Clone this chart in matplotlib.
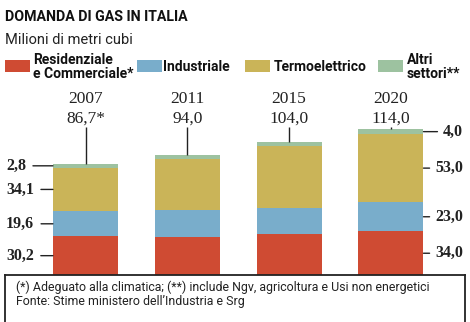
import matplotlib
matplotlib.use("Agg")
import matplotlib.pyplot as plt
from matplotlib.lines import Line2D
from matplotlib.patches import Rectangle
import matplotlib.transforms as mtransforms

# dati (milioni di metri cubi)
anni = ["2007", "2011", "2015", "2020"]
totali = ["86,7*", "94,0", "104,0", "114,0"]
residenziale = [30.2, 30.0, 32.0, 34.0]
industriale = [19.6, 20.5, 20.5, 23.0]
termoelettrico = [34.1, 40.5, 48.0, 53.0]
altri = [2.8, 3.0, 3.5, 4.0]
etichette_2007 = ["30,2", "19,6", "34,1", "2,8"]
etichette_2020 = ["34,0", "23,0", "53,0", "4,0"]

serie = [residenziale, industriale, termoelettrico, altri]
nomi = ["Residenziale\ne Commerciale*", "Industriale", "Termoelettrico", "Altri\nsettori**"]
colori = ["#cf4b33", "#79adcb", "#cab458", "#9dc2a0"]

SANS = ["Roboto", "DejaVu Sans"]
SERIF = ["Liberation Serif", "DejaVu Serif"]
W, H = 470, 322
PX = 1.28  # pixel per milione di m3

fig = plt.figure(figsize=(4.7, 3.22), dpi=100)
# assi: base delle barre a 275 px dall'alto
ax = fig.add_axes([0, (H - 275) / H, 1, 275 / H])
ax.set_xlim(-0.84, 3.777)
ax.set_ylim(0, 275 / PX)
ax.axis("off")

x = list(range(len(anni)))
larg = 0.64
base = [0] * len(anni)
centri = []
for vals, col in zip(serie, colori):
    ax.bar(x, vals, width=larg, bottom=base, color=col, linewidth=0)
    centri.append([b + v / 2 for b, v in zip(base, vals)])
    base = [b + v for b, v in zip(base, vals)]

# anni e totali in alto, con filo verso la barra
trans = mtransforms.blended_transform_factory(ax.transData, fig.transFigure)
y_filo = (275 - 127) / PX
ax.vlines(x, base, y_filo, color="#222222", lw=1)
for i in x:
    ax.text(i, (H - 99) / H, anni[i], transform=trans, ha="center", va="center",
            family=SERIF, fontsize=12.5, color="#222222")
    ax.text(i, (H - 119) / H, totali[i], transform=trans, ha="center", va="center",
            family=SERIF, fontsize=12.5, color="#222222")

# etichette 2007 a sinistra
tx = mtransforms.blended_transform_factory(fig.transFigure, ax.transData)
for j, lab in enumerate(etichette_2007):
    ax.annotate(lab, xy=(x[0] - larg / 2, centri[j][0]), xycoords="data",
                xytext=(6 / W, centri[j][0]), textcoords=tx,
                ha="left", va="center", family=SERIF, fontsize=11.5, fontweight="bold",
                color="#222222",
                arrowprops=dict(arrowstyle="-", color="#222222", lw=1, shrinkA=3, shrinkB=0))

# etichette 2020 a destra (allineate a destra)
for j, lab in enumerate(etichette_2020):
    ax.annotate(lab, xy=(x[3] + larg / 2, centri[j][3]), xycoords="data",
                xytext=(463 / W, centri[j][3]), textcoords=tx,
                ha="right", va="center", family=SERIF, fontsize=11.5, fontweight="bold",
                color="#222222",
                arrowprops=dict(arrowstyle="-", color="#222222", lw=1, shrinkA=2, shrinkB=0))

# titolo e sottotitolo
fig.text(5 / W, 1 - 17 / H, "DOMANDA DI GAS IN ITALIA", family=SANS, fontweight="bold",
         fontsize=10.2, va="center", ha="left", color="#111111")
fig.text(5 / W, 1 - 40 / H, "Milioni di metri cubi", family=SANS, fontsize=10.5,
         va="center", ha="left", color="#222222")

# legenda
leg_x = [5, 137, 245, 378]
txt_x = [33, 163, 274, 407]
for lx, tx_, nome, col in zip(leg_x, txt_x, nomi, colori):
    fig.patches.append(Rectangle((lx / W, 1 - 72 / H), 25 / W, 12 / H,
                                 transform=fig.transFigure, color=col, lw=0))
    fig.text(tx_ / W, 1 - 67 / H, nome, family=SANS, fontweight="bold", fontsize=10,
             va="center", ha="left", linespacing=0.95, color="#111111")

# riquadro note
lc = "#222222"
fig.add_artist(Line2D([5 / W, 465 / W], [1 - 275 / H, 1 - 275 / H], color=lc, lw=1.3,
                      transform=fig.transFigure))
fig.add_artist(Line2D([5 / W, 5 / W], [0, 1 - 275 / H], color=lc, lw=1.3,
                      transform=fig.transFigure))
fig.add_artist(Line2D([465 / W, 465 / W], [0, 1 - 275 / H], color=lc, lw=1.3,
                      transform=fig.transFigure))
fig.text(16 / W, 1 - 287 / H,
         "(*) Adeguato alla climatica; (**) include Ngv, agricoltura e Usi non energetici",
         family=SANS, fontsize=8.9, va="center", ha="left", color="#222222")
fig.text(16 / W, 1 - 302 / H, "Fonte: Stime ministero dell\u2019Industria e Srg",
         family=SANS, fontsize=8.9, va="center", ha="left", color="#222222")

fig.savefig("out.png", dpi=100)
